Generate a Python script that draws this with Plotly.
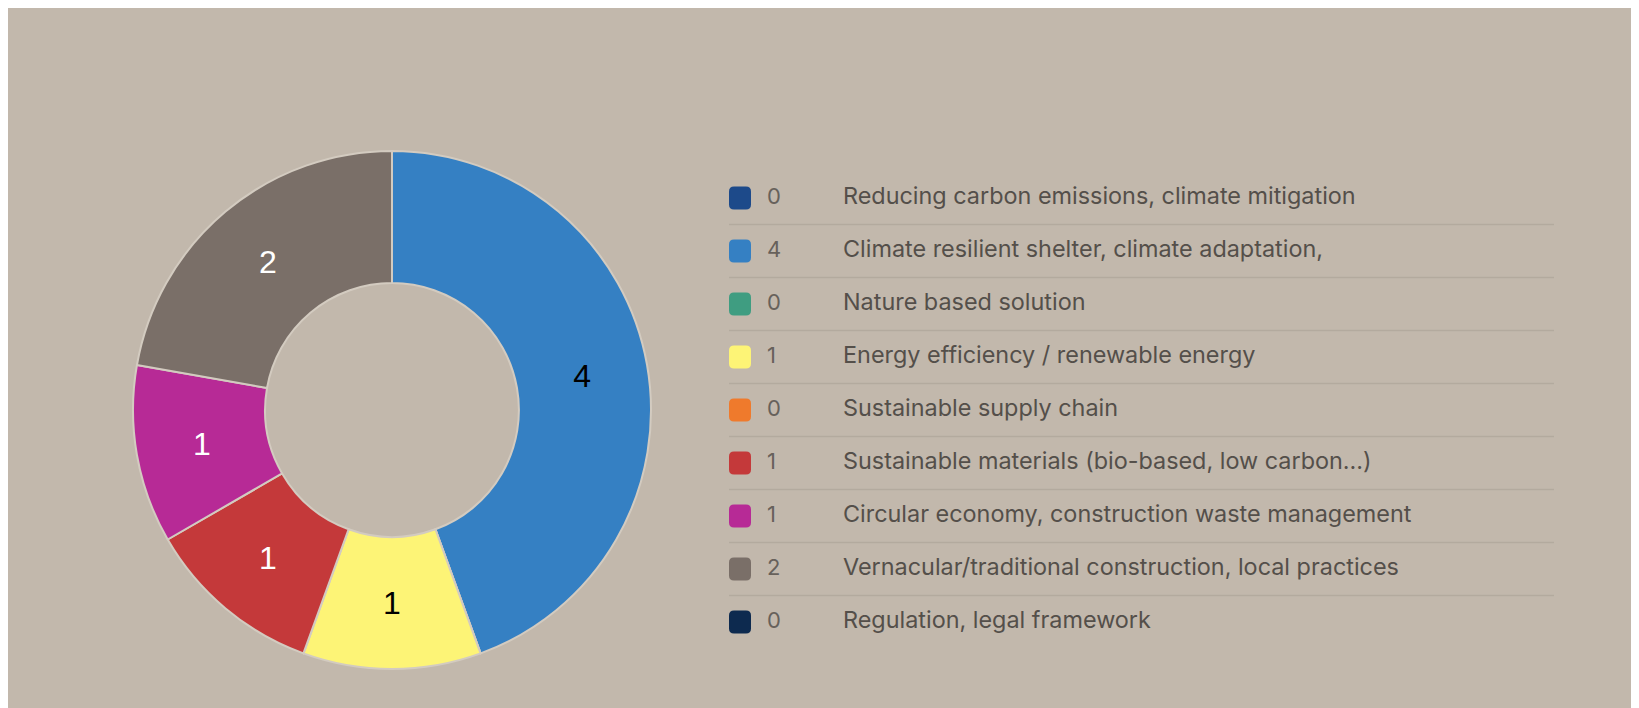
import plotly.graph_objects as go

categories = [
    "Reducing carbon emissions, climate mitigation",
    "Climate resilient shelter, climate adaptation,",
    "Nature based solution",
    "Energy efficiency / renewable energy",
    "Sustainable supply chain",
    "Sustainable materials (bio-based, low carbon...)",
    "Circular economy, construction waste management",
    "Vernacular/traditional construction, local practices",
    "Regulation, legal framework",
]
values = [0, 4, 0, 1, 0, 1, 1, 2, 0]
colors = ["#1d4a8a", "#3580c3", "#3f9d81", "#fdf476", "#ef7a2c",
          "#c4393a", "#b72a96", "#7a6f68", "#0d2a4f"]
slice_text_colors = ["white", "black", "white", "black", "white",
                     "white", "white", "white", "white"]

W, H = 1639, 708
BG = "#c2b8ac"

fig = go.Figure()

# Donut
cx, cy, R = 384, 402, 259
fig.add_trace(go.Pie(
    labels=categories,
    values=values,
    sort=False,
    direction="clockwise",
    rotation=0,
    hole=0.49,
    marker=dict(colors=colors, line=dict(color="#d3cbc0", width=2)),
    textinfo="value",
    textposition="inside",
    insidetextorientation="horizontal",
    textfont=dict(family="Liberation Sans, Arial", size=32, color=slice_text_colors),
    showlegend=False,
    hoverinfo="label+value",
    domain=dict(x=[(cx - R) / W, (cx + R) / W],
                y=[(H - cy - R) / H, (H - cy + R) / H]),
))

# Custom legend
row0, dy = 190, 53
sq_x0, sq_w, sq_h, rad = 721, 22, 23, 5
val_x, lab_x = 759, 835
line_x0, line_x1 = 721, 1546

rows_y = [row0 + i * dy for i in range(len(categories))]

fig.add_trace(go.Scatter(
    x=[val_x] * len(values), y=rows_y, mode="text",
    text=[str(v) for v in values], textposition="middle right",
    textfont=dict(family="Inter, Open Sans", size=22, color="#67615b"),
    showlegend=False, hoverinfo="skip",
))
fig.add_trace(go.Scatter(
    x=[lab_x] * len(categories), y=rows_y, mode="text",
    text=categories, textposition="middle right",
    textfont=dict(family="Inter, Open Sans", size=23.4, color="#544f4a"),
    showlegend=False, hoverinfo="skip",
))

shapes = []
for i, y in enumerate(rows_y):
    x0, x1 = sq_x0, sq_x0 + sq_w
    y0, y1 = y - sq_h / 2, y + sq_h / 2
    r = rad
    path = (f"M {x0 + r},{y0} L {x1 - r},{y0} Q {x1},{y0} {x1},{y0 + r} "
            f"L {x1},{y1 - r} Q {x1},{y1} {x1 - r},{y1} L {x0 + r},{y1} "
            f"Q {x0},{y1} {x0},{y1 - r} L {x0},{y0 + r} Q {x0},{y0} {x0 + r},{y0} Z")
    shapes.append(dict(type="path", xref="x", yref="y", path=path,
                       fillcolor=colors[i], line=dict(width=0)))
    if i < len(rows_y) - 1:
        ly = y + dy / 2
        shapes.append(dict(type="line", xref="x", yref="y", x0=line_x0, x1=line_x1,
                           y0=ly, y1=ly, line=dict(color="#b3aa9e", width=1.5)))

fig.update_layout(
    width=W, height=H,
    margin=dict(l=0, r=0, t=0, b=0),
    paper_bgcolor=BG, plot_bgcolor=BG,
    xaxis=dict(range=[0, W], visible=False, domain=[0, 1]),
    yaxis=dict(range=[H, 0], visible=False, domain=[0, 1]),
    shapes=shapes,
    showlegend=False,
)

fig.write_html("out.html")
